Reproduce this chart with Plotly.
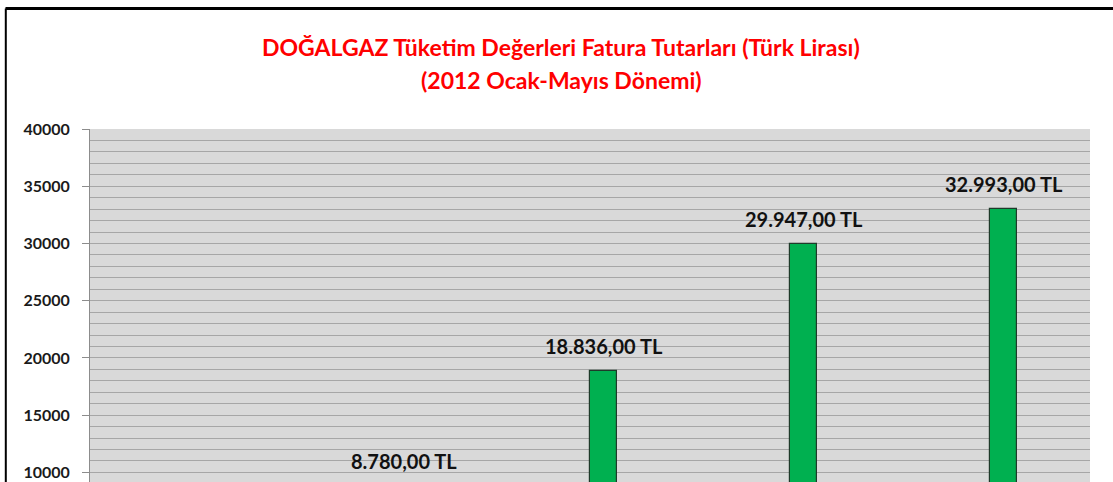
import plotly.graph_objects as go

# ---- data ----
months = ["Ocak", "Şubat", "Mart", "Nisan", "Mayıs"]
invoice_tl = [4200, 8780, 18836, 29947, 32993]   # Ocak value is below the visible range (estimated)
title_line1 = "DOĞALGAZ Tüketim Değerleri Fatura Tutarları (Türk Lirası)"
title_line2 = "(2012 Ocak-Mayıs Dönemi)"
y_tickvals = [10000, 15000, 20000, 25000, 30000, 35000, 40000]
y_ticktext = [str(v) for v in y_tickvals]


def tr_fmt(v):
    s = f"{v:,.2f}"
    return s.replace(",", "X").replace(".", ",").replace("X", ".") + " TL"


W, H = 1113, 482
ML, MR, MT, MB = 90, 23, 129, 0
plot_h = H - MT - MB
y_top = 40000
per_px = 5000 / 57.23
y_bot = y_top - plot_h * per_px
LABEL_SHIFT = 25


def py2paper(py):
    return (H - MB - py) / plot_h


def px2paper(px):
    return (px - ML) / (W - ML - MR)


def val2paper(v):
    return (v - y_bot) / (y_top - y_bot)


fig = go.Figure()
fig.add_trace(go.Bar(
    x=months, y=invoice_tl,
    width=0.135, offset=0,
    marker=dict(color="#00b050", line=dict(color="#1e3a2a", width=1.2)),
    showlegend=False, hoverinfo="x+y",
))

font_main = "Lato, 'Open Sans', sans-serif"
annotations = []
for i, v in enumerate(invoice_tl):
    label_py = H - val2paper(v) * plot_h - LABEL_SHIFT
    if label_py + 10 > H:
        continue  # label lies below the visible part of the chart
    annotations.append(dict(
        x=(i + 0.5) / len(months), y=val2paper(v), xref="paper", yref="paper",
        text=tr_fmt(v), showarrow=False,
        xshift=13.5, yshift=LABEL_SHIFT, yanchor="middle", xanchor="center",
        font=dict(family=font_main, size=20, color="#111111", weight="bold"),
    ))

annotations.append(dict(x=px2paper(561), y=py2paper(47), xref="paper", yref="paper",
                        text=title_line1, showarrow=False, yanchor="middle", xanchor="center",
                        font=dict(family=font_main, size=23, color="#ff0000", weight="bold")))
annotations.append(dict(x=px2paper(561), y=py2paper(80), xref="paper", yref="paper",
                        text=title_line2, showarrow=False, yanchor="middle", xanchor="center",
                        font=dict(family=font_main, size=23, color="#ff0000", weight="bold")))

shapes = [
    dict(type="line", xref="paper", yref="paper",
         x0=px2paper(5.5), x1=px2paper(W + 5), y0=py2paper(8.5), y1=py2paper(8.5),
         line=dict(color="#000000", width=3)),
    dict(type="line", xref="paper", yref="paper",
         x0=px2paper(5.8), x1=px2paper(5.8), y0=py2paper(8.5), y1=py2paper(H + 5),
         line=dict(color="#000000", width=2)),
]

fig.update_layout(
    width=W, height=H,
    margin=dict(l=ML, r=MR, t=MT, b=MB, pad=0),
    paper_bgcolor="#ffffff", plot_bgcolor="#d9d9d9",
    annotations=annotations, shapes=shapes,
    bargap=0,
    xaxis=dict(showticklabels=False, showgrid=False, zeroline=False, showline=False,
               ticks="", range=[-0.5, 4.5], fixedrange=True),
    yaxis=dict(range=[y_bot, y_top], tickvals=y_tickvals, ticktext=y_ticktext, showgrid=True,
               gridcolor="#a6a6a6", gridwidth=1, zeroline=False,
               minor=dict(dtick=1000, showgrid=True, gridcolor="#a6a6a6", gridwidth=1),
               showline=True, linecolor="#8c8c8c", linewidth=1,
               ticks="outside", ticklen=7, tickcolor="#8c8c8c",
               ticklabelstandoff=9,
               tickfont=dict(family=font_main, size=16, color="#1a1a1a", weight="bold"),
               fixedrange=True),
)

fig.write_html("out.html", config={"displayModeBar": False},
               post_script="document.body.style.margin='0';document.body.style.overflow='hidden';")
